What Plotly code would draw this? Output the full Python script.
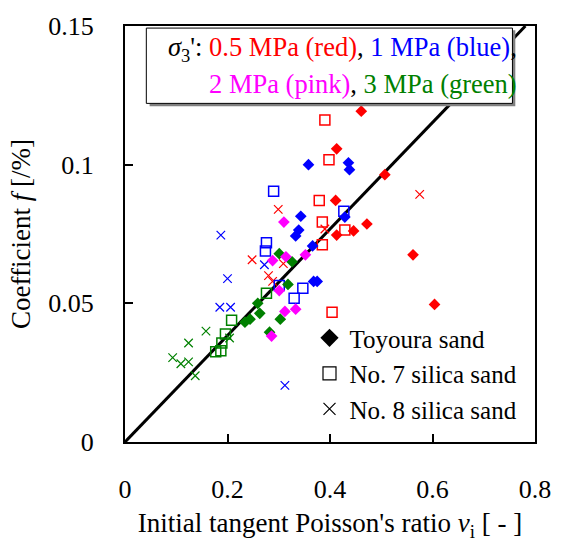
import plotly.graph_objects as go

# Coefficient f versus initial tangent Poisson's ratio, grouped by sand type
# (marker symbol) and confining pressure (colour).

# Toyoura sand (filled diamonds)
toy_red_x = [0.461, 0.413, 0.507, 0.411, 0.472, 0.446, 0.413, 0.562, 0.604]
toy_red_y = [0.1193, 0.1057, 0.0964, 0.0871, 0.0786, 0.0761, 0.0746, 0.0675, 0.0496]
toy_blue_x = [0.358, 0.436, 0.438, 0.343, 0.339, 0.333, 0.366, 0.429, 0.368, 0.375]
toy_blue_y = [0.1000, 0.1007, 0.0982, 0.0814, 0.0764, 0.0743, 0.0707, 0.0811, 0.0579, 0.0579]
toy_pink_x = [0.310, 0.288, 0.314, 0.352, 0.301, 0.312, 0.333, 0.286]
toy_pink_y = [0.0793, 0.0654, 0.0668, 0.0675, 0.0546, 0.0471, 0.0479, 0.0382]
toy_green_x = [0.301, 0.326, 0.318, 0.259, 0.263, 0.244, 0.234, 0.303, 0.282]
toy_green_y = [0.0679, 0.0650, 0.0568, 0.0500, 0.0464, 0.0443, 0.0432, 0.0443, 0.0396]

# No. 7 silica sand (open squares)
s7_red_x = [0.390, 0.398, 0.379, 0.385, 0.429, 0.385, 0.404]
s7_red_y = [0.1161, 0.1018, 0.0871, 0.0793, 0.0764, 0.0711, 0.0468]
s7_blue_x = [0.290, 0.427, 0.276, 0.274, 0.301, 0.347, 0.330]
s7_blue_y = [0.0904, 0.0832, 0.0718, 0.0689, 0.0564, 0.0554, 0.0518]
s7_green_x = [0.276, 0.208, 0.196, 0.189, 0.187, 0.177]
s7_green_y = [0.0536, 0.0439, 0.0389, 0.0357, 0.0329, 0.0325]

# No. 8 silica sand (crosses)
s8_red_x = [0.299, 0.575, 0.390, 0.309, 0.248, 0.280, 0.288]
s8_red_y = [0.0839, 0.0893, 0.0768, 0.0643, 0.0657, 0.0600, 0.0579]
s8_blue_x = [0.187, 0.200, 0.185, 0.206, 0.272, 0.312]
s8_blue_y = [0.0746, 0.0589, 0.0486, 0.0486, 0.0639, 0.0204]
s8_green_x = [0.158, 0.124, 0.204, 0.093, 0.109, 0.124, 0.137]
s8_green_y = [0.0400, 0.0357, 0.0375, 0.0304, 0.0282, 0.0289, 0.0239]

# Proportional fit f = k * nu_i
fit_slope = 0.192

x_ticks = [0, 0.2, 0.4, 0.6, 0.8]
x_tick_text = ["0", "0.2", "0.4", "0.6", "0.8"]
y_ticks = [0, 0.05, 0.1, 0.15]
y_tick_text = ["0", "0.05", "0.1", "0.15"]

RED, BLUE, PINK, GREEN = "#FF0000", "#0000FF", "#FF00FF", "#008000"
FONT = "Liberation Serif, Times New Roman, serif"

fig = go.Figure()

# fitted line across the axis range
x_max = 0.15 / fit_slope
fig.add_trace(go.Scatter(x=[0, x_max], y=[0, fit_slope * x_max], mode="lines",
                         line=dict(color="black", width=3), showlegend=False,
                         hoverinfo="skip"))

def diamonds(xs, ys, color):
    fig.add_trace(go.Scatter(x=xs, y=ys, mode="markers", showlegend=False,
                             marker=dict(symbol="diamond", size=9, color=color,
                                         line=dict(width=0))))

def squares(xs, ys, color):
    fig.add_trace(go.Scatter(x=xs, y=ys, mode="markers", showlegend=False,
                             marker=dict(symbol="square-open", size=10, color=color,
                                         line=dict(width=1.5, color=color))))

def crosses(xs, ys, color):
    fig.add_trace(go.Scatter(x=xs, y=ys, mode="markers", showlegend=False,
                             marker=dict(symbol="x-thin", size=8.5, color=color,
                                         line=dict(width=1.2, color=color))))

crosses(s8_green_x, s8_green_y, GREEN)
crosses(s8_blue_x, s8_blue_y, BLUE)
crosses(s8_red_x, s8_red_y, RED)
squares(s7_green_x, s7_green_y, GREEN)
squares(s7_blue_x, s7_blue_y, BLUE)
squares(s7_red_x, s7_red_y, RED)
diamonds(toy_green_x, toy_green_y, GREEN)
diamonds(toy_pink_x, toy_pink_y, PINK)
diamonds(toy_blue_x, toy_blue_y, BLUE)
diamonds(toy_red_x, toy_red_y, RED)

# legend entries for the sand types
fig.add_trace(go.Scatter(x=[None], y=[None], mode="markers", name="Toyoura sand",
                         marker=dict(symbol="diamond", size=14, color="black")))
fig.add_trace(go.Scatter(x=[None], y=[None], mode="markers", name="No. 7 silica sand",
                         marker=dict(symbol="square-open", size=13, color="black",
                                     line=dict(width=1.2, color="black"))))
fig.add_trace(go.Scatter(x=[None], y=[None], mode="markers", name="No. 8 silica sand",
                         marker=dict(symbol="x-thin", size=12, color="black",
                                     line=dict(width=1.2, color="black"))))

# confining-pressure key box with drop shadow
fig.add_shape(type="rect", xref="paper", yref="paper", x0=0.060, x1=0.952,
              y0=0.807, y1=0.990, fillcolor="#808080", line=dict(width=0),
              layer="above")
fig.add_shape(type="rect", xref="paper", yref="paper", x0=0.052, x1=0.945,
              y0=0.814, y1=0.995, fillcolor="white",
              line=dict(color="black", width=1), layer="above")

def span(text, color):
    return f"<span style='color:{color}'>{text}</span>"

line1 = ("<i>σ</i><sub>3</sub>': " + span("0.5 MPa (red)", RED) + ", "
         + span("1 MPa (blue)", BLUE) + ",")
line2 = span("2 MPa (pink)", PINK) + ", " + span("3 MPa (green)", GREEN)
fig.add_annotation(x=0.962, y=0.944, xref="paper", yref="paper", text=line1,
                   showarrow=False, xanchor="right", yanchor="middle",
                   font=dict(family=FONT, size=26.5, color="black"))
fig.add_annotation(x=0.962, y=0.860, xref="paper", yref="paper", text=line2,
                   showarrow=False, xanchor="right", yanchor="middle",
                   font=dict(family=FONT, size=26.5, color="black"))

axis_common = dict(showline=True, linecolor="black", linewidth=2, mirror=True,
                   ticks="inside", ticklen=8, tickwidth=2, tickcolor="black",
                   showgrid=False, zeroline=False,
                   tickfont=dict(family=FONT, size=26, color="black"))

fig.update_xaxes(range=[0, 0.8], tickvals=x_ticks, ticktext=x_tick_text,
                 ticklabelstandoff=23,
                 title=dict(text="Initial tangent Poisson's ratio <i>ν</i><sub>i</sub> [ - ]",
                            font=dict(family=FONT, size=27, color="black"),
                            standoff=10),
                 **axis_common)
fig.update_yaxes(range=[0, 0.15], tickvals=y_ticks, ticktext=y_tick_text,
                 ticklabelstandoff=24,
                 title=dict(text="Coefficient <i>f</i> [/%]",
                            font=dict(family=FONT, size=27, color="black"),
                            standoff=10),
                 **axis_common)

fig.update_layout(
    width=563, height=553,
    margin=dict(l=125, r=18, t=22, b=111),
    plot_bgcolor="white", paper_bgcolor="white",
    showlegend=True,
    legend=dict(x=0.45, y=0.305, xanchor="left", yanchor="top",
                bgcolor="rgba(0,0,0,0)", borderwidth=0,
                font=dict(family=FONT, size=25, color="black"),
                itemsizing="trace", tracegroupgap=0),
)

fig.write_html("out.html")
